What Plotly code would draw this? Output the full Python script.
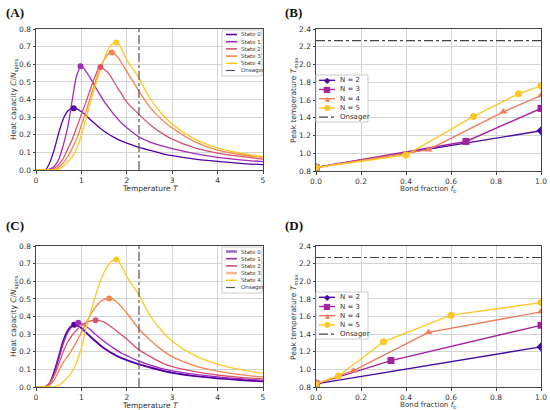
import plotly.graph_objects as go

# temperature grid that the heat capacity curves are read on
t_grid = [0.0, 0.2, 0.3, 0.4, 0.5, 0.6, 0.7, 0.8, 0.9, 1.0, 1.1, 1.2, 1.3, 1.4,
          1.5, 1.6, 1.7, 1.8, 1.9, 2.0, 2.25, 2.5, 2.75, 3.0, 3.5, 4.0, 4.5, 5.0]

# panel (A)
a_state0 = [0, 0, 0.04, 0.115, 0.21, 0.29, 0.335, 0.35, 0.347, 0.33, 0.31, 0.285, 0.262, 0.24,
            0.22, 0.203, 0.188, 0.174, 0.162, 0.152, 0.13, 0.112, 0.095, 0.081, 0.062, 0.049, 0.038, 0.030]
a_state1 = [0, 0, 0.005, 0.02, 0.06, 0.14, 0.245, 0.4, 0.54, 0.588, 0.56, 0.52, 0.475, 0.43,
            0.39, 0.355, 0.32, 0.29, 0.262, 0.24, 0.19, 0.16, 0.138, 0.121, 0.093, 0.072, 0.058, 0.047]
a_state2 = [0, 0, 0, 0.01, 0.03, 0.065, 0.12, 0.175, 0.245, 0.315, 0.385, 0.46, 0.53, 0.582,
            0.572, 0.548, 0.508, 0.465, 0.425, 0.385, 0.32, 0.26, 0.212, 0.175, 0.125, 0.096, 0.077, 0.062]
a_state3 = [0, 0, 0, 0, 0.015, 0.04, 0.075, 0.125, 0.18, 0.255, 0.33, 0.415, 0.495, 0.57,
            0.625, 0.66, 0.664, 0.64, 0.6, 0.56, 0.455, 0.36, 0.29, 0.238, 0.16, 0.113, 0.088, 0.072]
a_state4 = [0, 0, 0, 0, 0.005, 0.02, 0.045, 0.075, 0.125, 0.2, 0.29, 0.385, 0.475, 0.555,
            0.63, 0.69, 0.718, 0.72, 0.68, 0.625, 0.53, 0.41, 0.325, 0.26, 0.175, 0.125, 0.095, 0.075]
a_peak_t = [0.83, 0.98, 1.42, 1.67, 1.77]
a_peak_c = [0.351, 0.589, 0.585, 0.666, 0.723]

# panel (C)
c_state0 = [0, 0, 0.02, 0.085, 0.17, 0.26, 0.32, 0.348, 0.35, 0.335, 0.31, 0.285, 0.262, 0.24,
            0.22, 0.203, 0.188, 0.174, 0.162, 0.152, 0.13, 0.112, 0.095, 0.081, 0.062, 0.05, 0.04, 0.032]
c_state1 = [0, 0, 0.02, 0.075, 0.16, 0.245, 0.31, 0.345, 0.362, 0.36, 0.345, 0.325, 0.3, 0.28,
            0.26, 0.24, 0.222, 0.205, 0.19, 0.178, 0.148, 0.125, 0.106, 0.092, 0.072, 0.058, 0.047, 0.038]
c_state2 = [0, 0, 0.02, 0.065, 0.13, 0.2, 0.255, 0.295, 0.325, 0.348, 0.365, 0.375, 0.379, 0.377,
            0.368, 0.352, 0.333, 0.313, 0.292, 0.272, 0.215, 0.175, 0.14, 0.115, 0.087, 0.068, 0.055, 0.046]
c_state3 = [0, 0, 0.01, 0.04, 0.09, 0.14, 0.175, 0.215, 0.26, 0.31, 0.36, 0.41, 0.45, 0.48,
            0.497, 0.502, 0.497, 0.478, 0.45, 0.42, 0.335, 0.27, 0.215, 0.172, 0.12, 0.09, 0.07, 0.057]
c_state4 = [0, 0, 0, 0.002, 0.01, 0.03, 0.055, 0.09, 0.145, 0.22, 0.33, 0.42, 0.51, 0.59,
            0.65, 0.695, 0.72, 0.72, 0.68, 0.625, 0.53, 0.41, 0.325, 0.26, 0.178, 0.13, 0.098, 0.077]
c_peak_t = [0.84, 0.93, 1.31, 1.61, 1.77]
c_peak_c = [0.353, 0.364, 0.379, 0.502, 0.723]

# panel (B): bond fraction vs peak temperature
b_f2 = [0, 1]
b_t2 = [0.84, 1.253]
b_f3 = [0, 0.667, 1]
b_t3 = [0.84, 1.133, 1.505]
b_f4 = [0, 0.5, 0.833, 1]
b_t4 = [0.84, 1.04, 1.467, 1.65]
b_f5 = [0, 0.4, 0.7, 0.9, 1]
b_t5 = [0.84, 0.98, 1.415, 1.67, 1.76]

# panel (D)
d_f2 = [0, 1]
d_t2 = [0.835, 1.255]
d_f3 = [0, 0.333, 1]
d_t3 = [0.835, 1.10, 1.50]
d_f4 = [0, 0.167, 0.5, 1]
d_t4 = [0.835, 0.985, 1.42, 1.653]
d_f5 = [0, 0.1, 0.3, 0.6, 1]
d_t5 = [0.835, 0.925, 1.313, 1.615, 1.758]

onsager = 2.269
state_names = ["State 0", "State 1", "State 2", "State 3", "State 4"]
n_names = ["N = 2", "N = 3", "N = 4", "N = 5"]

state_colors = ["#5402a3", "#a22bb8", "#d5546e", "#f5854b", "#fcc926"]
n_colors = ["#4c0ba0", "#a3229f", "#ef7b58", "#fdc627"]
n_symbols = ["diamond", "square", "triangle-up", "circle"]
n_glyphs = ["\u25c6", "\u25a0", "\u25b2", "\u25cf"]

W, H = 550, 410
fig = go.Figure()

heat_panels = [
    ("x", "y", [a_state0, a_state1, a_state2, a_state3, a_state4], a_peak_t, a_peak_c, False),
    ("x3", "y3", [c_state0, c_state1, c_state2, c_state3, c_state4], c_peak_t, c_peak_c, True),
]
for xa, ya, curves, pk_t, pk_c, thick in heat_panels:
    for i, c in enumerate(curves):
        w = 1.3
        if thick and i == 0:
            w = 1.9
        fig.add_trace(go.Scatter(x=t_grid, y=c, mode="lines", name=state_names[i],
                                 line=dict(color=state_colors[i], width=w, shape="spline", smoothing=0.8),
                                 xaxis=xa, yaxis=ya))
    fig.add_trace(go.Scatter(x=pk_t, y=pk_c, mode="markers",
                             marker=dict(color=state_colors, size=6),
                             xaxis=xa, yaxis=ya))
    fig.add_trace(go.Scatter(x=[onsager, onsager], y=[0, 0.8], mode="lines", name="Onsager",
                             line=dict(color="#555555", width=1.2, dash="dashdot"),
                             xaxis=xa, yaxis=ya))

frac_panels = [
    ("x2", "y2", [(b_f2, b_t2), (b_f3, b_t3), (b_f4, b_t4), (b_f5, b_t5)]),
    ("x4", "y4", [(d_f2, d_t2), (d_f3, d_t3), (d_f4, d_t4), (d_f5, d_t5)]),
]
for xa, ya, series in frac_panels:
    for i, (f, t) in enumerate(series):
        fig.add_trace(go.Scatter(x=f, y=t, mode="lines+markers", name=n_names[i],
                                 line=dict(color=n_colors[i], width=1.4),
                                 marker=dict(symbol=n_symbols[i], size=7, color=n_colors[i]),
                                 xaxis=xa, yaxis=ya))
    fig.add_trace(go.Scatter(x=[0, 1], y=[onsager, onsager], mode="lines", name="Onsager",
                             line=dict(color="#444444", width=1.1, dash="dashdot"),
                             xaxis=xa, yaxis=ya))


def px(a, b):
    return [a / W, b / W]


def py(top, bottom):
    return [1 - bottom / H, 1 - top / H]


axis_common = dict(showline=True, mirror=True, linecolor="#444444", linewidth=1,
                   showgrid=True, gridcolor="#d4d4d4", gridwidth=1, zeroline=False,
                   ticks="outside", ticklen=2.5, tickcolor="#444444", automargin=False,
                   tickfont=dict(size=7.5, color="#333333"))

fig.update_layout(
    width=W, height=H, margin=dict(l=0, r=0, t=0, b=0, autoexpand=False),
    paper_bgcolor="white", plot_bgcolor="white", showlegend=False,
    font=dict(family="DejaVu Sans", color="#333333"),
    xaxis=dict(domain=px(36, 263), anchor="y", range=[0, 5], dtick=1, **axis_common),
    yaxis=dict(domain=py(29, 170), anchor="x", range=[0, 0.8], dtick=0.1, tickformat=".1f", **axis_common),
    xaxis2=dict(domain=px(316, 541), anchor="y2", range=[0, 1], dtick=0.2, tickformat=".1f", **axis_common),
    yaxis2=dict(domain=py(29, 171), anchor="x2", range=[0.8, 2.4], dtick=0.2, tickformat=".1f", **axis_common),
    xaxis3=dict(domain=px(36, 263), anchor="y3", range=[0, 5], dtick=1, **axis_common),
    yaxis3=dict(domain=py(246, 387), anchor="x3", range=[0, 0.8], dtick=0.1, tickformat=".1f", **axis_common),
    xaxis4=dict(domain=px(316, 541), anchor="y4", range=[0, 1], dtick=0.2, tickformat=".1f", **axis_common),
    yaxis4=dict(domain=py(246, 387), anchor="x4", range=[0.8, 2.4], dtick=0.2, tickformat=".1f", **axis_common),
)


def text_at(x, y, text, size, color="#333333", anchor="left", angle=0, family=None):
    font = dict(size=size, color=color)
    if family:
        font["family"] = family
    fig.add_annotation(text=text, x=x / W, y=1 - y / H, xref="paper", yref="paper",
                       xanchor=anchor, yanchor="middle", showarrow=False, textangle=angle,
                       font=font)


# axis titles
for dy in [0, 217]:
    text_at(150, 188.5 + dy, "Temperature <i>T</i>", 7.5, anchor="center")
    text_at(14, 100 + dy, "Heat capacity <i>C</i>/<i>N</i><sub>spins</sub>", 7.5, anchor="center", angle=-90)
    text_at(294, 100 + dy, "Peak temperature <i>T</i><sub>max</sub>", 7.5, anchor="center", angle=-90)
for y in [188.8, 404.6]:
    text_at(428, y, "Bond fraction <i>f</i><sub>b</sub>", 7.2, anchor="center")


# hand-built legends: plotly's own legend rows are too tall for these small boxes
def box(x0, y0, x1, y1):
    fig.add_shape(type="rect", xref="paper", yref="paper",
                  x0=x0 / W, x1=x1 / W, y0=1 - y1 / H, y1=1 - y0 / H,
                  line=dict(color="#cccccc", width=1), fillcolor="rgba(255,255,255,0.92)",
                  layer="above")


def leg_line(x0, x1, y, color, width, dash="solid"):
    fig.add_shape(type="line", xref="paper", yref="paper",
                  x0=x0 / W, x1=x1 / W, y0=1 - y / H, y1=1 - y / H,
                  line=dict(color=color, width=width, dash=dash), layer="above")


for dy, thick in [(0, False), (217, True)]:
    box(222, 30 + dy, 262, 76 + dy)
    for i in range(5):
        y = 34.5 + 7.2 * i + dy
        w = 1.6
        col = state_colors[i]
        if thick and i == 0:
            w, col = 2.5, "rgba(84,2,163,0.6)"
        if thick and i == 3:
            w, col = 2.5, "rgba(245,133,75,0.6)"
        leg_line(226, 237, y, col, w)
        text_at(239, y, state_names[i], 5.5)
    leg_line(226, 237, 34.5 + 7.2 * 5 + dy, "#555555", 1.2, "dashdot")
    text_at(239, 34.5 + 7.2 * 5 + dy, "Onsager", 5.5)

for dy in [0, 217]:
    box(316, 75 + dy, 368, 122 + dy)
    for i in range(4):
        y = 80.3 + 9.2 * i + dy
        leg_line(319, 335, y, n_colors[i], 1.4)
        text_at(327, y, n_glyphs[i], 8 if i != 2 else 6.5, n_colors[i], "center")
        text_at(338, y, n_names[i], 7)
    leg_line(319, 335, 80.3 + 9.2 * 4 + dy, "#444444", 1.1, "dashdot")
    text_at(338, 80.3 + 9.2 * 4 + dy, "Onsager", 7)

for label, x, y in [("(A)", 4, 12), ("(B)", 283, 12), ("(C)", 4, 225), ("(D)", 283, 225)]:
    text_at(x, y, "<b>" + label + "</b>", 13, "#111111", family="Liberation Serif")

# the page body has a default 8px margin that would push the figure off the window
fig.write_html("out.html", config={"displayModeBar": False},
               post_script="document.body.style.margin='0';")
